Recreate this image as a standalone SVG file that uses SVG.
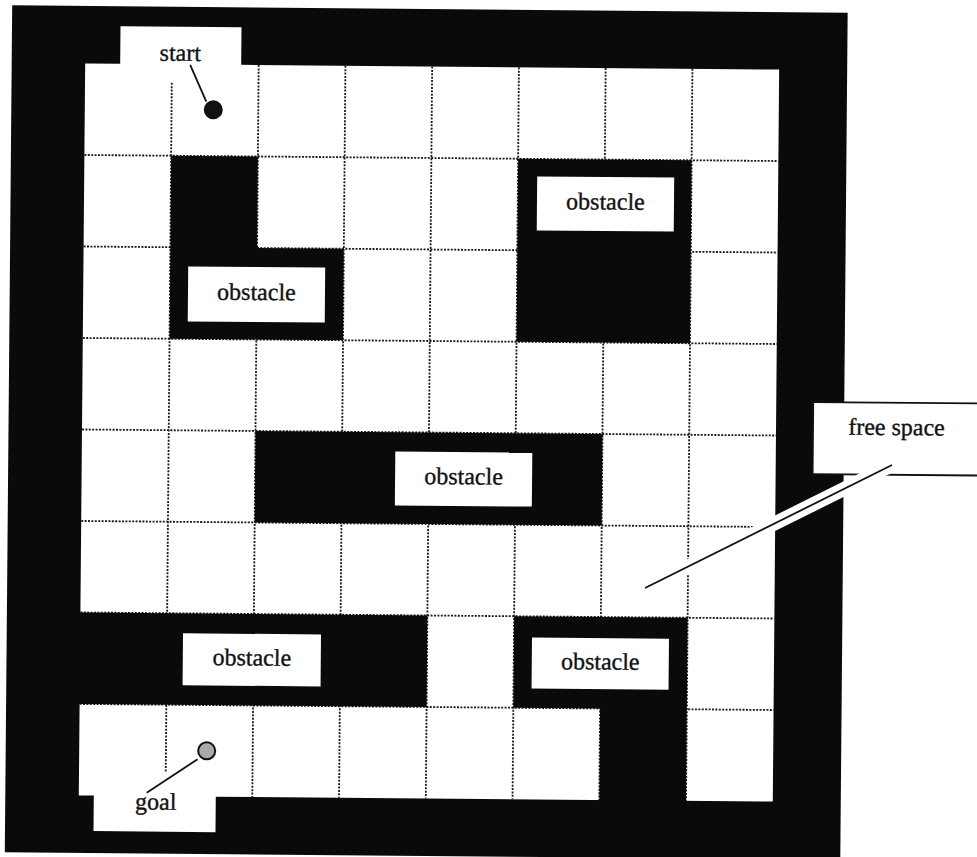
<svg xmlns="http://www.w3.org/2000/svg" width="977" height="857" viewBox="0 0 977 857">
<style>
.blk{fill:#0a0a0a}
.free{fill:#ffffff}
.grid line{stroke:#1a1a1a;stroke-width:1.8;stroke-dasharray:2 1.4;fill:none}
.lbl{fill:#ffffff}
.t{font-family:"Liberation Serif","Times New Roman",serif;font-size:24px;fill:#111;stroke:#111;stroke-width:0.35;text-anchor:middle}
.lead{stroke:#111;stroke-width:1.8;fill:none}
.halo{stroke:#ffffff;stroke-width:14;fill:none}
</style>
<rect width="977" height="857" fill="#ffffff"/>
<g transform="rotate(0.5 430 430)">
  <g id="frame">
    <rect class="blk" x="8.5" y="9" width="835.5" height="847"/>
  </g>
  <g id="free-area">
    <path class="free" d="M82,66.5 H117 V29 H238 V66.5 H776 V798.5 H219 V834 H97 V798.5 H82 Z"/>
  </g>
  <g id="grid" class="grid">
    <line x1="168.75" y1="85" x2="168.75" y2="775"/>
    <line x1="255.5" y1="66.5" x2="255.5" y2="798.5"/>
    <line x1="342.25" y1="66.5" x2="342.25" y2="798.5"/>
    <line x1="429" y1="66.5" x2="429" y2="798.5"/>
    <line x1="515.75" y1="66.5" x2="515.75" y2="798.5"/>
    <line x1="602.5" y1="66.5" x2="602.5" y2="798.5"/>
    <line x1="689.25" y1="66.5" x2="689.25" y2="798.5"/>
    <line x1="82" y1="158" x2="776" y2="158"/>
    <line x1="82" y1="249.5" x2="776" y2="249.5"/>
    <line x1="82" y1="341" x2="776" y2="341"/>
    <line x1="82" y1="432.5" x2="776" y2="432.5"/>
    <line x1="82" y1="524" x2="776" y2="524"/>
    <line x1="82" y1="615.5" x2="776" y2="615.5"/>
    <line x1="82" y1="707" x2="776" y2="707"/>
  </g>
  <g id="obstacle-1">
    <path class="blk" d="M168.75,158 H255.5 V249.5 H342.25 V341 H168.75 Z"/>
    <rect class="lbl" x="186.8" y="268.5" width="137" height="55"/>
    <text class="t" x="255.3" y="301.5">obstacle</text>
  </g>
  <g id="obstacle-2">
    <rect class="blk" x="515.75" y="158" width="173.5" height="183"/>
    <rect class="lbl" x="535" y="175.5" width="137" height="54"/>
    <text class="t" x="603.5" y="208">obstacle</text>
  </g>
  <g id="obstacle-3">
    <rect class="blk" x="255.5" y="432.5" width="347" height="91.5"/>
    <rect class="lbl" x="395.5" y="451.7" width="137" height="54"/>
    <text class="t" x="464" y="484">obstacle</text>
  </g>
  <g id="obstacle-4">
    <rect class="blk" x="60" y="615.5" width="369" height="91.5"/>
    <rect class="lbl" x="184.8" y="635.4" width="138" height="52"/>
    <text class="t" x="253.8" y="667">obstacle</text>
  </g>
  <g id="obstacle-5">
    <path class="blk" d="M515.75,615.5 H689.25 V800 H602.5 V707 H515.75 Z"/>
    <rect class="lbl" x="533.8" y="636.7" width="137" height="51"/>
    <text class="t" x="602.3" y="668">obstacle</text>
  </g>
  <g id="start">
    <text class="t" x="177" y="63">start</text>
    <circle cx="210.5" cy="111.7" r="9.5" fill="#111"/>
  </g>
  <g id="goal">
    <circle cx="209.5" cy="752.8" r="8.5" fill="#a9a9a9" stroke="#111" stroke-width="2"/>
    <text class="t" x="159" y="812">goal</text>
  </g>
  <g id="free-space">
    <rect x="813" y="398.7" width="200" height="72" fill="#ffffff" stroke="#111" stroke-width="1.8"/>
    <text class="t" x="896.5" y="431">free space</text>
  </g>
  <g id="connectors">
    <line class="lead" x1="187" y1="67" x2="203.4" y2="103.7"/>
    <line class="lead" x1="149.9" y1="795.2" x2="200.5" y2="761.2"/>
    <line class="halo" x1="646.4" y1="586.1" x2="892.3" y2="461"/>
    <line class="lead" x1="646.4" y1="586.1" x2="892.3" y2="461" stroke-width="2.2"/>
  </g>
</g>
</svg>
